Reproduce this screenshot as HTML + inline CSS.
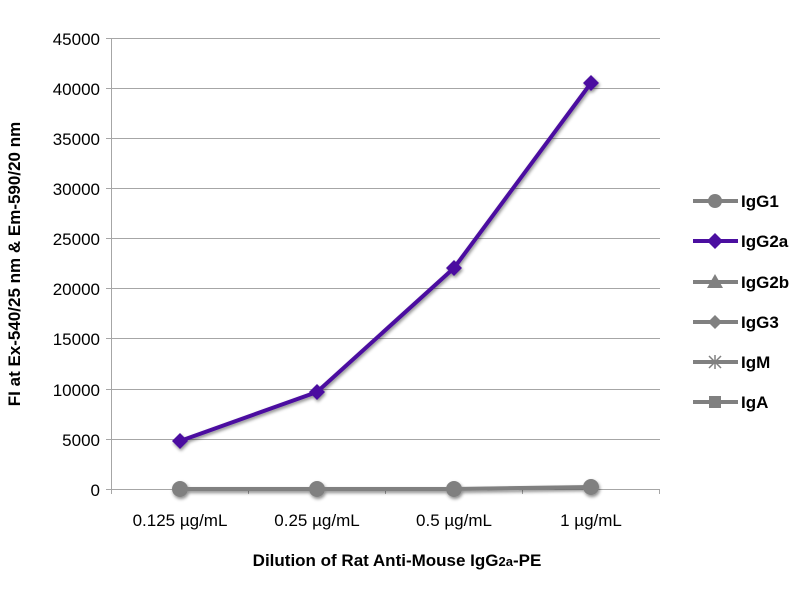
<!DOCTYPE html>
<html><head><style>body{margin:0;background:#fff}svg{display:block}</style></head><body>
<svg width="800" height="600" xmlns="http://www.w3.org/2000/svg" font-family="Liberation Sans, sans-serif">
<defs><filter id="sh" x="-20%" y="-20%" width="140%" height="160%"><feDropShadow dx="1" dy="2" stdDeviation="1.5" flood-opacity="0.45"/></filter></defs>
<g stroke="#a6a6a6" stroke-width="1">
<line x1="106" y1="38.5" x2="660" y2="38.5"/><line x1="106" y1="88.5" x2="660" y2="88.5"/>
<line x1="106" y1="138.5" x2="660" y2="138.5"/><line x1="106" y1="188.5" x2="660" y2="188.5"/>
<line x1="106" y1="238.5" x2="660" y2="238.5"/><line x1="106" y1="288.5" x2="660" y2="288.5"/>
<line x1="106" y1="338.5" x2="660" y2="338.5"/><line x1="106" y1="389.5" x2="660" y2="389.5"/>
<line x1="106" y1="439.5" x2="660" y2="439.5"/><line x1="106" y1="489.5" x2="660" y2="489.5"/>
<line x1="111.5" y1="38" x2="111.5" y2="494"/>
<line x1="248.5" y1="489" x2="248.5" y2="494"/><line x1="385.5" y1="489" x2="385.5" y2="494"/>
<line x1="522.5" y1="489" x2="522.5" y2="494"/><line x1="659.5" y1="489" x2="659.5" y2="494"/>
</g>
<g font-size="17" fill="#000" text-anchor="end">
<text x="100" y="45">45000</text><text x="100" y="95">40000</text><text x="100" y="145">35000</text>
<text x="100" y="195">30000</text><text x="100" y="245">25000</text><text x="100" y="295">20000</text>
<text x="100" y="345">15000</text><text x="100" y="396">10000</text><text x="100" y="446">5000</text>
<text x="100" y="496">0</text>
</g>
<g font-size="17" text-anchor="middle">
<text x="180" y="526">0.125 µg/mL</text><text x="317" y="526">0.25 µg/mL</text>
<text x="454" y="526">0.5 µg/mL</text><text x="591" y="526">1 µg/mL</text>
</g>
<text x="397" y="566" font-size="17" font-weight="bold" text-anchor="middle">Dilution of Rat Anti-Mouse IgG<tspan font-size="13">2a</tspan>-PE</text>
<text transform="translate(20,264) rotate(-90)" font-size="17" font-weight="bold" text-anchor="middle">FI at Ex-540/25 nm &amp; Em-590/20 nm</text>
<g filter="url(#sh)">
<polyline points="180,489 317,489 454,489 591,487" fill="none" stroke="#808080" stroke-width="4"/>
<g fill="#808080"><circle cx="180" cy="489" r="8"/><circle cx="317" cy="489" r="8"/><circle cx="454" cy="489" r="8"/><circle cx="591" cy="487" r="8"/></g>
<polyline points="180,441 317,392 454,268 591,83" fill="none" stroke="#4b0fa0" stroke-width="4"/>
<g fill="#4b0fa0">
<polygon points="180,433 188,441 180,449 172,441"/><polygon points="317,384 325,392 317,400 309,392"/>
<polygon points="454,260 462,268 454,276 446,268"/><polygon points="591,75 599,83 591,91 583,83"/>
</g>
</g>
<g font-size="17" font-weight="bold">
<g stroke="#808080" stroke-width="4"><line x1="693" y1="201" x2="738" y2="201"/><line x1="693" y1="241" x2="738" y2="241" stroke="#4b0fa0"/><line x1="693" y1="282" x2="738" y2="282"/><line x1="693" y1="322" x2="738" y2="322"/><line x1="693" y1="362" x2="738" y2="362"/><line x1="693" y1="402" x2="738" y2="402"/></g>
<circle cx="715" cy="201" r="7" fill="#808080"/>
<polygon points="715,233 723,241 715,249 707,241" fill="#4b0fa0"/>
<polygon points="715,274 723,288 707,288" fill="#808080"/>
<polygon points="715,315 722,322 715,329 708,322" fill="#808080"/>
<g stroke="#808080" stroke-width="1.5"><line x1="709" y1="356" x2="721" y2="368"/><line x1="721" y1="356" x2="709" y2="368"/><line x1="715" y1="355" x2="715" y2="369"/><line x1="707" y1="362" x2="723" y2="362"/></g>
<rect x="709" y="396" width="12" height="12" fill="#808080"/>
<text x="741" y="207">IgG1</text><text x="741" y="247">IgG2a</text><text x="741" y="288">IgG2b</text>
<text x="741" y="328">IgG3</text><text x="741" y="368">IgM</text><text x="741" y="408">IgA</text>
</g>
</svg>
</body></html>
